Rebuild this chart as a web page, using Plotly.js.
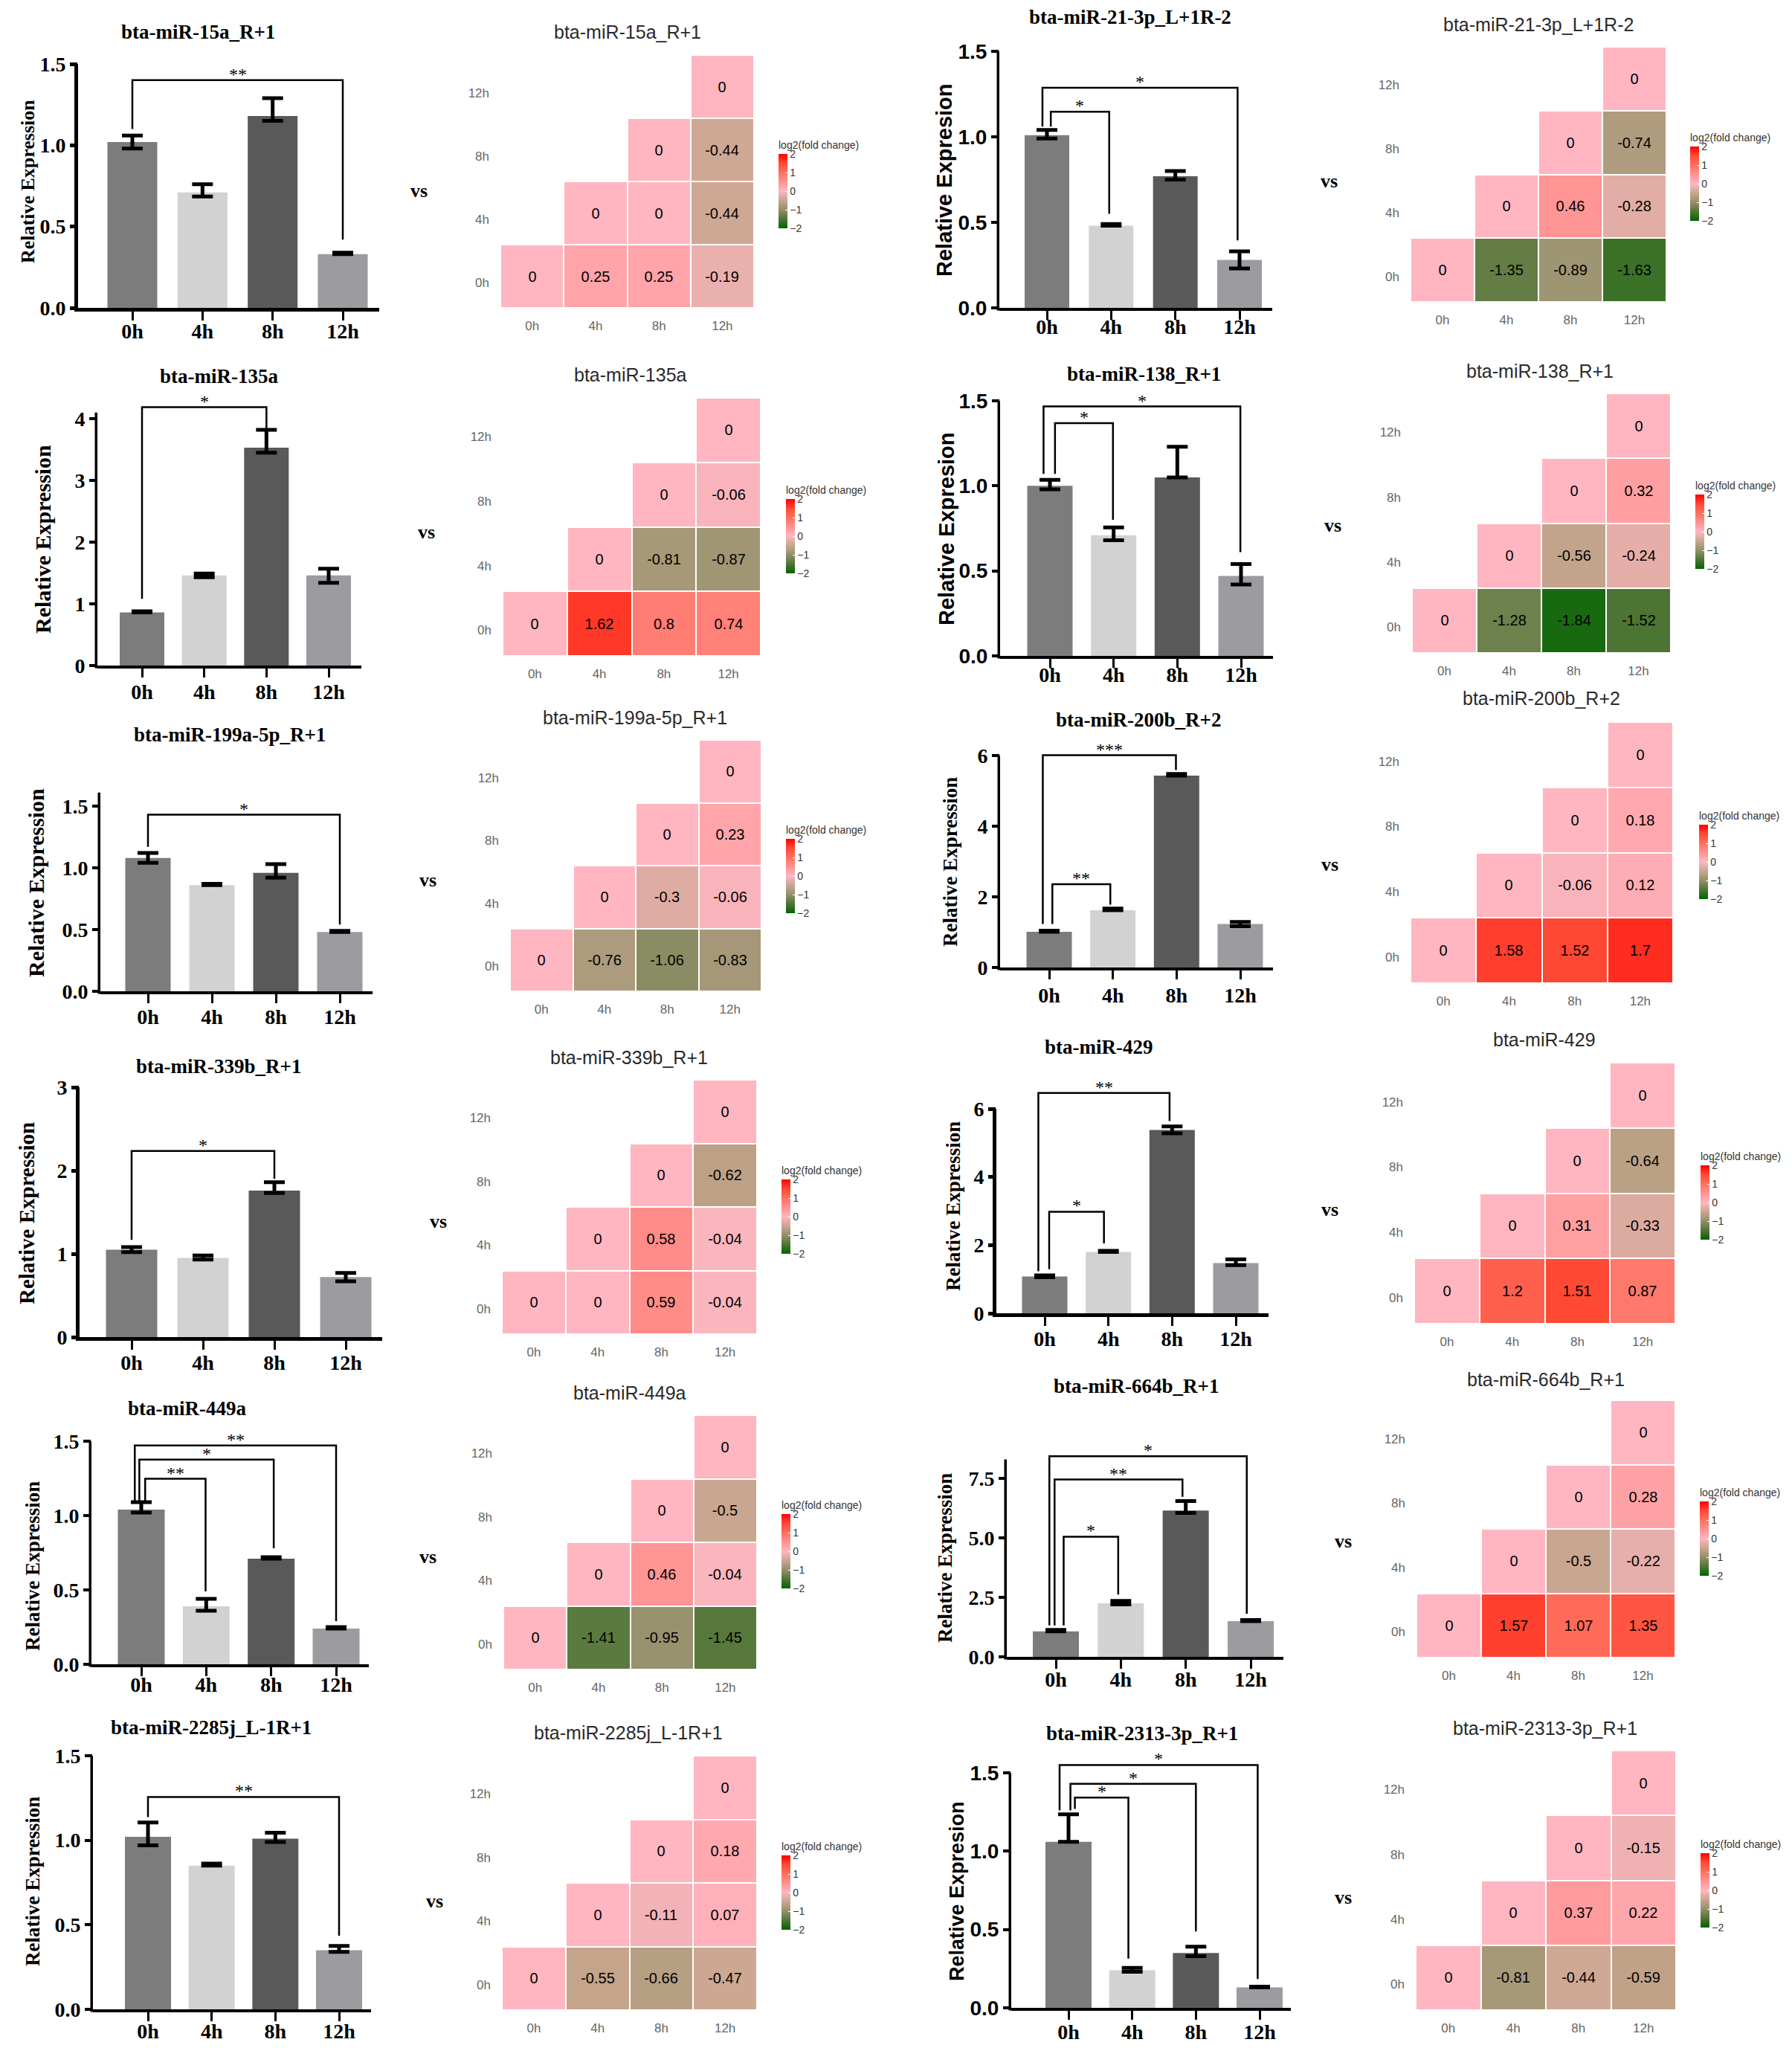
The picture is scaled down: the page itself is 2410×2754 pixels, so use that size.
<!DOCTYPE html>
<html>
<head>
<meta charset="utf-8">
<script src="https://cdn.plot.ly/plotly-3.0.1.min.js"></script>
<style>
  html, body { margin: 0; padding: 0; background: #fff; }
  #chart { width: 2410px; height: 2754px; }
</style>
</head>
<body>
<div id="chart"></div>
<script>
const WIDTH = 2410;
const HEIGHT = 2754;

const TIMES = ["0h", "4h", "8h", "12h"];
const TIME_INDEX = [0, 1, 2, 3];

const NAMES = [
    "bta-miR-15a_R+1", "bta-miR-21-3p_L+1R-2",
    "bta-miR-135a", "bta-miR-138_R+1",
    "bta-miR-199a-5p_R+1", "bta-miR-200b_R+2",
    "bta-miR-339b_R+1", "bta-miR-429",
    "bta-miR-449a", "bta-miR-664b_R+1",
    "bta-miR-2285j_L-1R+1", "bta-miR-2313-3p_R+1"
];

// bar heights at 0h, 4h, 8h, 12h
const BAR_VALUES = [
    [1.02, 0.71, 1.18, 0.33], [1.01, 0.48, 0.77, 0.28],
    [0.86, 1.46, 3.53, 1.46], [1.0, 0.71, 1.05, 0.47],
    [1.08, 0.86, 0.96, 0.48], [1.01, 1.62, 5.43, 1.23],
    [1.05, 0.95, 1.76, 0.72], [1.08, 1.8, 5.38, 1.47],
    [1.04, 0.39, 0.71, 0.24], [1.07, 2.25, 6.15, 1.5],
    [1.02, 0.85, 1.01, 0.35], [1.06, 0.24, 0.35, 0.13]
];
const ERR_UP = [
    [0.04, 0.05, 0.11, 0.01], [0.03, 0.01, 0.03, 0.05],
    [0.02, 0.03, 0.29, 0.11], [0.035, 0.045, 0.18, 0.07],
    [0.04, 0.01, 0.07, 0.01], [0.03, 0.05, 0.05, 0.06],
    [0.03, 0.03, 0.1, 0.05], [0.03, 0.03, 0.1, 0.11],
    [0.05, 0.05, 0.01, 0.01], [0.06, 0.1, 0.4, 0.05],
    [0.085, 0.012, 0.035, 0.025], [0.175, 0.015, 0.04, 0.005]
];
const ERR_DOWN = [
    [0.04, 0.025, 0.03, 0], [0.02, 0, 0.02, 0.05],
    [0, 0.03, 0.08, 0.12], [0.02, 0.03, 0, 0.05],
    [0.04, 0, 0.04, 0], [0, 0, 0, 0.06],
    [0.03, 0.02, 0.03, 0.05], [0.02, 0, 0.1, 0.06],
    [0.02, 0.03, 0, 0], [0, 0.05, 0.1, 0],
    [0.05, 0, 0.02, 0.01], [0, 0.01, 0.02, 0]
];

const Y_TICKS = [
    [0, 0.5, 1, 1.5], [0, 0.5, 1, 1.5],
    [0, 1, 2, 3, 4], [0, 0.5, 1, 1.5],
    [0, 0.5, 1, 1.5], [0, 2, 4, 6],
    [0, 1, 2, 3], [0, 2, 4, 6],
    [0, 0.5, 1, 1.5], [0, 2.5, 5, 7.5],
    [0, 0.5, 1, 1.5], [0, 0.5, 1, 1.5]
];
const Y_TICK_TEXT = [
    ["0.0", "0.5", "1.0", "1.5"], ["0.0", "0.5", "1.0", "1.5"],
    ["0", "1", "2", "3", "4"], ["0.0", "0.5", "1.0", "1.5"],
    ["0.0", "0.5", "1.0", "1.5"], ["0", "2", "4", "6"],
    ["0", "1", "2", "3"], ["0", "2", "4", "6"],
    ["0.0", "0.5", "1.0", "1.5"], ["0.0", "2.5", "5.0", "7.5"],
    ["0.0", "0.5", "1.0", "1.5"], ["0.0", "0.5", "1.0", "1.5"]
];
// where the value axis line stops
const SPINE_TOP = [1.5, 1.5, 4.1, 1.5, 1.61, 6, 3, 6, 1.5, 8.3, 1.5, 1.5];

const Y_TITLES = [
    "Relative Expression", "Relative Expresion",
    "Relative Expression", "Relative Expresion",
    "Relative Expression", "Relative Expression",
    "Relative Expression", "Relative Expression",
    "Relative Expression", "Relative Expression",
    "Relative Expression", "Relative Expresion"
];

// brackets: [from, to, top, left end, right end, stars]
const BRACKETS = [
    [[0, 3, 1.4, 1.1, 0.42, "**"]],
    [[-0.07, 2.97, 1.287, 1.06, 0.395, "*"], [0.06, 0.97, 1.147, 1.06, 0.55, "*"]],
    [[0, 2, 4.186, 1.08, 3.83, "*"]],
    [[-0.1, 2.99, 1.467, 1.07, 0.61, "*"], [0.08, 0.99, 1.369, 1.07, 0.8, "*"]],
    [[0, 3, 1.43, 1.17, 0.54, "*"]],
    [[-0.1, 1.99, 6.01, 1.23, 5.59, "***"], [0.05, 0.96, 2.36, 1.23, 1.78, "**"]],
    [[0, 2, 2.235, 1.167, 1.9, "*"]],
    [[-0.1, 1.96, 6.465, 1.23, 5.64, "**"], [0.07, 0.93, 2.98, 1.29, 2.05, "*"]],
    [[-0.1, 3, 1.471, 1.1, 0.29, "**"], [-0.03, 2.04, 1.376, 1.1, 0.78, "*"], [0.06, 0.99, 1.247, 1.1, 0.49, "**"]],
    [[-0.1, 2.94, 8.43, 1.32, 1.81, "*"], [-0.02, 1.95, 7.45, 1.32, 6.73, "**"], [0.12, 0.96, 5.05, 1.32, 2.62, "*"]],
    [[0, 3, 1.256, 1.137, 0.435, "**"]],
    [[-0.14, 2.97, 1.55, 1.26, 0.184, "*"], [0.03, 2, 1.43, 1.26, 0.488, "*"], [0.1, 0.94, 1.342, 1.27, 0.315, "*"]]
];

// log2 fold change, rows from 0h up to 12h
const _ = null;
const HEAT_VALUES = [
    [[0, 0.25, 0.25, -0.19], [_, 0, 0, -0.44], [_, _, 0, -0.44], [_, _, _, 0]],
    [[0, -1.35, -0.89, -1.63], [_, 0, 0.46, -0.28], [_, _, 0, -0.74], [_, _, _, 0]],
    [[0, 1.62, 0.8, 0.74], [_, 0, -0.81, -0.87], [_, _, 0, -0.06], [_, _, _, 0]],
    [[0, -1.28, -1.84, -1.52], [_, 0, -0.56, -0.24], [_, _, 0, 0.32], [_, _, _, 0]],
    [[0, -0.76, -1.06, -0.83], [_, 0, -0.3, -0.06], [_, _, 0, 0.23], [_, _, _, 0]],
    [[0, 1.58, 1.52, 1.7], [_, 0, -0.06, 0.12], [_, _, 0, 0.18], [_, _, _, 0]],
    [[0, 0, 0.59, -0.04], [_, 0, 0.58, -0.04], [_, _, 0, -0.62], [_, _, _, 0]],
    [[0, 1.2, 1.51, 0.87], [_, 0, 0.31, -0.33], [_, _, 0, -0.64], [_, _, _, 0]],
    [[0, -1.41, -0.95, -1.45], [_, 0, 0.46, -0.04], [_, _, 0, -0.5], [_, _, _, 0]],
    [[0, 1.57, 1.07, 1.35], [_, 0, -0.5, -0.22], [_, _, 0, 0.28], [_, _, _, 0]],
    [[0, -0.55, -0.66, -0.47], [_, 0, -0.11, 0.07], [_, _, 0, 0.18], [_, _, _, 0]],
    [[0, -0.81, -0.44, -0.59], [_, 0, 0.37, 0.22], [_, _, 0, -0.15], [_, _, _, 0]]
];
const CB_TICKS = [-2, -1, 0, 1, 2];

// ----- placement, all in page pixels -----

// left, right, zero line, top tick line, first bar centre, last bar centre, bar width
const BAR_BOX = [
    [105, 510, 414, 86, 178, 461, 67], [1344, 1711, 414, 69, 1408, 1667, 60],
    [131, 486, 895, 563, 191, 442, 60], [1345, 1712, 882, 539, 1412, 1669, 61],
    [135, 501, 1333, 1084, 199, 457, 61], [1345, 1712, 1301, 1016, 1411, 1668, 61],
    [107, 514, 1798, 1462, 177, 465, 69], [1340, 1706, 1766, 1491, 1405, 1662, 61],
    [123, 496, 2238, 1938, 190, 452, 63], [1354, 1726, 2228, 1988, 1420, 1682, 62],
    [125, 499, 2702, 2361, 199, 456, 62], [1360, 1736, 2700, 2384, 1437, 1694, 62]
];
// x, y of the centre of the bar chart title
const BAR_TITLE_POS = [
    [266, 43], [1520, 23], [294, 506], [1538, 503], [309, 988], [1531, 968],
    [294, 1434], [1477, 1408], [251, 1894], [1528, 1864], [284, 2323], [1536, 2331]
];
// x, y of the centre of the y title, then its font size
const Y_TITLE_POS = [
    [38, 244, 26], [1270, 242, 29], [58, 725, 30], [1273, 711, 29], [48, 1187, 30], [1278, 1159, 27],
    [36, 1632, 29], [1282, 1622, 27], [44, 2106, 27], [1271, 2095, 27], [44, 2530, 27], [1287, 2543, 27]
];
const VS_POS = [
    [563, 257], [1787, 243], [573, 715], [1792, 707], [575, 1183], [1788, 1163],
    [589, 1642], [1788, 1626], [575, 2093], [1806, 2072], [584, 2556], [1806, 2551]
];
// how far the time labels sit closer to the axis
const X_LABEL_LIFT = [10, 14, 4, 14, 5, 2, 7, 7, 12, 9, 10, 7];
// left, right, top, bottom of the heatmap
const HEAT_BOX = [
    [673, 1014, 74, 414], [1897, 2241, 63, 406], [676, 1023, 535, 882], [1899, 2247, 529, 878],
    [686, 1024, 995, 1333], [1897, 2250, 971, 1322], [675, 1018, 1452, 1794], [1902, 2253, 1429, 1780],
    [677, 1018, 1903, 2245], [1905, 2253, 1883, 2229], [675, 1018, 2361, 2703], [1904, 2254, 2354, 2703]
];
const HEAT_TITLE_POS = [
    [844, 43], [2069, 33], [848, 504], [2071, 499], [854, 965], [2073, 939],
    [846, 1422], [2077, 1398], [847, 1873], [2079, 1855], [845, 2330], [2078, 2324]
];
// left, top of the colour bar
const CB_POS = [
    [1047, 205], [2273, 195], [1057, 669], [2280, 663], [1057, 1126], [2285, 1107],
    [1051, 1584], [2287, 1565], [1051, 2034], [2286, 2017], [1051, 2493], [2287, 2490]
];
// panels set in a sans face on the value axis
const SANS_AXIS = [false, true, false, true, false, false, false, false, false, false, false, true];
const HEAVY_AXIS = [true, false, false, false, false, false, true, true, false, false, false, false];

const BAR_COLORS = ["#7c7c7c", "#d2d2d2", "#595959", "#9b9ba0"];
const HEAT_SCALE = [
    [0, "#006400"], [0.125, "#4f7535"], [0.25, "#92906a"], [0.375, "#c9a68f"], [0.5, "#ffb6c1"],
    [0.625, "#ff9290"], [0.75, "#ff6f5f"], [0.875, "#ff4a35"], [1, "#ff0000"]
];

const SERIF = "Liberation Serif, serif";
const SANS = "Liberation Sans, Arial, sans-serif";

function px(x) { return x / WIDTH; }
function py(y) { return 1 - y / HEIGHT; }

const traces = [];
const annotations = [];
const shapes = [];
const layout = {
    width: WIDTH,
    height: HEIGHT,
    margin: { l: 0, r: 0, t: 0, b: 0, autoexpand: false },
    paper_bgcolor: "#fff",
    plot_bgcolor: "rgba(0,0,0,0)",
    showlegend: false,
    annotations: annotations,
    shapes: shapes
};

function note(x, y, text, size, family, color, extra) {
    annotations.push(Object.assign({
        xref: "paper", yref: "paper", x: px(x), y: py(y),
        xanchor: "center", yanchor: "middle", showarrow: false,
        text: text, font: { size: size, family: family, color: color }
    }, extra || {}));
}

function addBarPanel(n) {
    const id = 2 * n + 1;
    const xa = "x" + (id === 1 ? "" : id);
    const ya = "y" + (id === 1 ? "" : id);
    const [left, right, zero, topTick, c0, c3, barW] = BAR_BOX[n];
    const ticks = Y_TICKS[n];
    const pxPerUnit = (zero - topTick) / ticks[ticks.length - 1];
    const unit = (c3 - c0) / 3;
    // room for brackets that rise past the axis, lines are always clipped to the plot
    const head = Math.max(SPINE_TOP[n], ...BRACKETS[n].map(b => b[2])) * 1.02;
    const heavy = HEAVY_AXIS[n] ? 5 : 3.5;
    const axisFont = SANS_AXIS[n] ? SANS : SERIF;

    traces.push({
        type: "bar", x: TIME_INDEX, y: BAR_VALUES[n], width: barW / unit,
        xaxis: xa, yaxis: ya, cliponaxis: false, hoverinfo: "skip",
        marker: { color: BAR_COLORS },
        error_y: {
            type: "data", symmetric: false, array: ERR_UP[n], arrayminus: ERR_DOWN[n],
            color: "#000", thickness: 5, width: 14
        }
    });

    BRACKETS[n].forEach(b => {
        traces.push({
            type: "scatter", mode: "lines", xaxis: xa, yaxis: ya, hoverinfo: "skip",
            x: [b[0], b[0], b[1], b[1]], y: [b[3], b[2], b[2], b[4]],
            line: { color: "#000", width: 2.5 }
        });
        annotations.push({
            xref: xa, yref: ya, x: (b[0] + b[1]) / 2, y: b[2], xanchor: "center", yanchor: "bottom",
            yshift: -7, showarrow: false, text: b[5],
            font: { size: 24, family: SERIF, color: "#000" }
        });
    });

    shapes.push({
        type: "line", xref: "paper", yref: "paper",
        x0: px(left - heavy / 2), x1: px(left - heavy / 2),
        y0: py(zero + heavy), y1: py(zero - SPINE_TOP[n] * pxPerUnit),
        line: { color: "#000", width: heavy }
    });

    layout["xaxis" + (id === 1 ? "" : id)] = {
        domain: [px(left), px(right)], anchor: ya,
        range: [(left - c0) / unit, (right - c0) / unit],
        tickmode: "array", tickvals: TIME_INDEX, ticktext: TIMES, ticklabelstandoff: -X_LABEL_LIFT[n],
        showgrid: false, zeroline: false, showline: true, linecolor: "#000", linewidth: heavy,
        ticks: "outside", ticklen: 12, tickwidth: 3, tickcolor: "#000",
        tickfont: { size: 28, family: SERIF, color: "#000", weight: "bold" }
    };
    layout["yaxis" + (id === 1 ? "" : id)] = {
        domain: [py(zero), py(zero - head * pxPerUnit)], anchor: xa, range: [0, head],
        tickmode: "array", tickvals: ticks, ticktext: Y_TICK_TEXT[n],
        showgrid: false, zeroline: false, showline: false,
        ticks: "outside", ticklen: 10, tickwidth: heavy, tickcolor: "#000",
        tickfont: { size: 28, family: axisFont, color: "#000", weight: "bold" }
    };

    note(BAR_TITLE_POS[n][0], BAR_TITLE_POS[n][1], "<b>" + NAMES[n] + "</b>", 27, SERIF, "#000");
    note(Y_TITLE_POS[n][0], Y_TITLE_POS[n][1], "<b>" + Y_TITLES[n] + "</b>", Y_TITLE_POS[n][2],
        SANS_AXIS[n] ? SANS : SERIF, "#000", { textangle: -90 });
    note(VS_POS[n][0], VS_POS[n][1], "<b>vs</b>", 26, SERIF, "#000");
}

function addHeatPanel(n) {
    const id = 2 * n + 2;
    const [left, right, top, bottom] = HEAT_BOX[n];
    const z = HEAT_VALUES[n];

    traces.push({
        type: "heatmap", x: TIME_INDEX, y: TIME_INDEX, z: z,
        xaxis: "x" + id, yaxis: "y" + id, hoverinfo: "skip",
        zmin: -2, zmax: 2, colorscale: HEAT_SCALE, xgap: 2, ygap: 2,
        text: z.map(row => row.map(v => (v === null ? "" : String(v)))),
        texttemplate: "%{text}",
        textfont: { size: 20, family: SANS, color: "#000" },
        colorbar: {
            // the bar's length here includes the title above it
            x: px(CB_POS[n][0]), xanchor: "left", y: py(CB_POS[n][1] - 19), yanchor: "top",
            xpad: 0, ypad: 0, thickness: 12, lenmode: "pixels", len: 121, outlinewidth: 0,
            tickmode: "array", tickvals: CB_TICKS, ticks: "inside", ticklen: 3, tickcolor: "#fff",
            tickfont: { size: 14, family: SANS, color: "#333" },
            title: { text: "log2(fold change)", side: "top", font: { size: 14, family: SANS, color: "#333" } }
        }
    });

    layout["xaxis" + id] = {
        domain: [px(left), px(right)], anchor: "y" + id, range: [-0.5, 3.5],
        tickmode: "array", tickvals: TIME_INDEX, ticktext: TIMES, ticklabelstandoff: 12,
        showgrid: false, zeroline: false, showline: false, ticks: "",
        tickfont: { size: 17, family: SANS, color: "#666" }
    };
    layout["yaxis" + id] = {
        domain: [py(bottom), py(top)], anchor: "x" + id, range: [-0.5, 3.5],
        tickmode: "array", tickvals: [-0.1, 0.9, 1.9, 2.9], ticktext: TIMES, ticklabelstandoff: 14,
        showgrid: false, zeroline: false, showline: false, ticks: "",
        tickfont: { size: 17, family: SANS, color: "#666" }
    };

    note(HEAT_TITLE_POS[n][0], HEAT_TITLE_POS[n][1], NAMES[n], 25, SANS, "#2a2a2a");
}

for (let n = 0; n < NAMES.length; n++) {
    addBarPanel(n);
    addHeatPanel(n);
}

Plotly.newPlot("chart", traces, layout, { displayModeBar: false, responsive: false });
</script>
</body>
</html>
